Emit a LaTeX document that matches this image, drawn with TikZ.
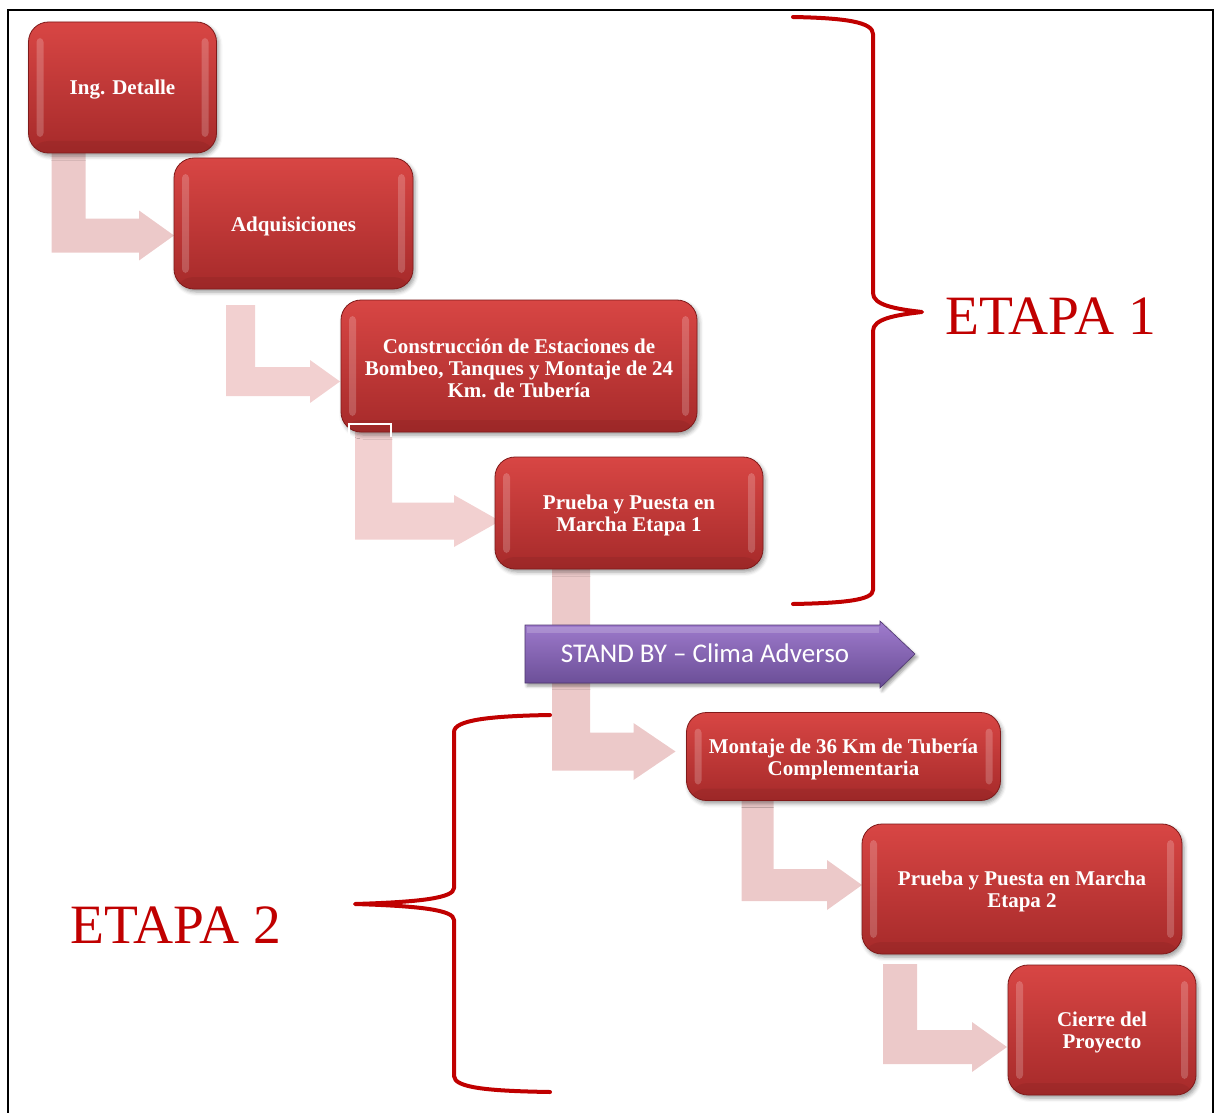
\documentclass[tikz,border=0pt]{standalone}
\usepackage{fontspec}
\setmainfont{Liberation Serif}
\newfontfamily\standbyfont{Carlito}
\usetikzlibrary{calc,shadows.blur}

\definecolor{boxtop}{RGB}{216,70,68}
\definecolor{boxbot}{RGB}{166,42,42}
\definecolor{boxedge}{RGB}{128,26,26}
\definecolor{flowpink}{RGB}{236,201,201}
\definecolor{flowpinklight}{RGB}{242,208,208}
\definecolor{etapared}{RGB}{192,0,0}
\definecolor{sbtop}{RGB}{160,124,206}
\definecolor{sbbot}{RGB}{104,76,148}
\definecolor{sbedge}{RGB}{78,54,112}

% taller first line, to sit the text a little lower in its box
\newcommand\firstline{\rule{0pt}{19.5pt}}

\tikzset{
  slot/.style={minimum width=#1, inner sep=0pt, outer sep=0pt},
  stepbox/.style={draw=boxedge, line width=0.8pt, rounded corners=20pt,
    top color=boxtop, bottom color=boxbot, text=white, align=center, inner sep=0pt,
    font=\bfseries\fontsize{21}{22}\selectfont,
    blur shadow={shadow xshift=2pt, shadow yshift=-3pt, shadow blur radius=4pt, shadow opacity=40},
    path picture={
      \fill[white, opacity=0.2, rounded corners=4pt]
        ([xshift=8pt,yshift=-16pt]path picture bounding box.north west) rectangle
        ([xshift=15pt,yshift=16pt]path picture bounding box.south west);
      \fill[white, opacity=0.2, rounded corners=4pt]
        ([xshift=-8pt,yshift=-16pt]path picture bounding box.north east) rectangle
        ([xshift=-15pt,yshift=16pt]path picture bounding box.south east);
      \fill[black, opacity=0.06]
        ([yshift=12pt]path picture bounding box.south west) rectangle
        (path picture bounding box.south east);
    }},
  flowarrow/.style={fill=flowpink},
  brace/.style={draw=etapared, line width=4pt, line cap=round, line join=round},
  etapa/.style={text=etapared, font=\fontsize{55.5}{60}\selectfont, inner sep=0pt},
  standbyarrow/.style={draw=sbedge, line width=0.6pt, top color=sbtop, bottom color=sbbot,
    blur shadow={shadow xshift=2pt, shadow yshift=-3pt, shadow blur radius=3pt, shadow opacity=40}},
}

% bent flow arrow from area #1 down and right into area #2
% #3 bar offset from #1.west, #4 bar width, #5 start shift from #1.south,
% #6 tip shift from #2.west (vertical), #7 head half height, #8 head length, #9 tip x shift
\newcommand\bentarrow[9]{%
  \fill[flowarrow] let \p1=(#1.south west), \p3=(#2.west) in
    (\x1+#3pt, \y1+#5pt) -- (\x1+#3pt+#4pt, \y1+#5pt)
    -- (\x1+#3pt+#4pt, \y3+#6pt+#4pt/2)
    -- (\x3+#9pt-#8pt, \y3+#6pt+#4pt/2)
    -- (\x3+#9pt-#8pt, \y3+#6pt+#7pt)
    -- (\x3+#9pt, \y3+#6pt)
    -- (\x3+#9pt-#8pt, \y3+#6pt-#7pt)
    -- (\x3+#9pt-#8pt, \y3+#6pt-#4pt/2)
    -- (\x1+#3pt, \y3+#6pt-#4pt/2) -- cycle;}

\begin{document}
\begin{tikzpicture}[x=1pt,y=-1pt]
\useasboundingbox (0,0) rectangle (1218,1113);

% page frame
\draw[line width=1.6pt] (8,1113) -- (8,10) -- (1213,10) -- (1213,1113);

% areas taken by the process steps
\path node[slot=188pt, minimum height=131pt] (ing) at (122.5,87.5) {}
      node[slot=239pt, minimum height=131pt] (adq) at (293.5,223.5) {}
      node[slot=356pt, minimum height=132pt] (cons) at (519,366) {}
      node[slot=268pt, minimum height=112pt] (pe1) at (629,513) {}
      node[slot=314pt, minimum height=88pt] (mont) at (843.5,756.5) {}
      node[slot=320pt, minimum height=130pt] (pe2) at (1022,889) {}
      node[slot=188pt, minimum height=130pt] (cierre) at (1102,1030) {};

% flow arrows, drawn first so the steps sit on top
\bentarrow{ing}{adq}{23}{34}{10}{-12}{25}{35}{0}
\begingroup
\tikzset{flowarrow/.style={fill=flowpinklight}}
\bentarrow{adq}{cons}{52}{29}{-16}{-15.5}{21.5}{30}{-1}
\bentarrow{cons}{pe1}{14}{37}{9}{-8}{26}{46}{5}
\endgroup
\bentarrow{pe1}{mont}{57}{38}{10}{5}{28.5}{42}{-11}
\bentarrow{mont}{pe2}{55}{32}{10}{4}{25}{35}{0}
\bentarrow{pe2}{cierre}{21}{34}{-10}{-17}{25}{35}{-1}

% process steps
\node[stepbox, minimum width=188pt, minimum height=131pt] (ingbox) at (ing)
  {\firstline Ing. Detalle};
\node[stepbox, minimum width=239pt, minimum height=131pt] (adqbox) at (adq)
  {\firstline Adquisiciones};
\node[stepbox, minimum width=356pt, minimum height=132pt] (consbox) at (cons)
  {\firstline Construcción de Estaciones de\\Bombeo, Tanques y Montaje de 24\\Km. de Tubería};
\node[stepbox, minimum width=268pt, minimum height=112pt] (pe1box) at (pe1)
  {\firstline Prueba y Puesta en\\Marcha Etapa 1};
\node[stepbox, minimum width=314pt, minimum height=88pt] (montbox) at (mont)
  {\firstline Montaje de 36 Km de Tubería\\Complementaria};
\node[stepbox, minimum width=320pt, minimum height=130pt] (pe2box) at (pe2)
  {\firstline Prueba y Puesta en Marcha\\Etapa 2};
\node[stepbox, minimum width=188pt, minimum height=130pt] (cierrebox) at (cierre)
  {\firstline Cierre del\\Proyecto};

% small frame at the top of the third flow arrow
\draw[gray!45, line width=2.8pt] (349,437) -- (349,424) -- (391,424) -- (391,437);
\draw[white, line width=1.6pt] (349,437) -- (349,424) -- (391,424) -- (391,437);

% stand-by banner
\path[standbyarrow] (525,625) -- (880,625) -- (880,621) -- (915,654) -- (880,688)
  -- (880,683) -- (525,683) -- cycle;
\fill[white, opacity=0.18] (527,627) -- (879,627) -- (879,633) -- (527,633) -- cycle;
\node[text=white, font=\standbyfont\fontsize{27}{29}\selectfont, inner sep=0pt] (standby)
  at (705,653) {STAND BY – Clima Adverso};

% stage braces
\draw[brace] (793,17) .. controls (845,18) and (873,22) .. (873,34) -- (873,293)
  .. controls (873,305) and (895,309) .. (922,312)
  .. controls (895,315) and (873,319) .. (873,331) -- (873,590)
  .. controls (873,600) and (845,603) .. (793,604);
\draw[brace] (550,715) .. controls (490,716) and (454,720) .. (454,732) -- (454,888)
  .. controls (454,898) and (420,902) .. (355,904)
  .. controls (420,906) and (454,910) .. (454,920) -- (454,1076)
  .. controls (454,1088) and (490,1091) .. (550,1092);

\node[etapa, anchor=base west] (etapa1) at (945,334) {ETAPA 1};
\node[etapa, anchor=base west] (etapa2) at (70,943) {ETAPA 2};
\end{tikzpicture}
\end{document}
